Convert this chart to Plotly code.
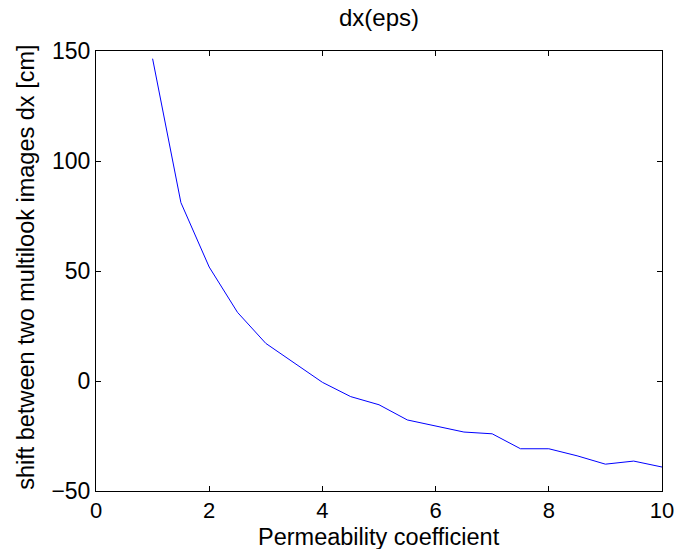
import plotly.graph_objects as go

x_vals = [1, 1.5, 2, 2.5, 3, 3.5, 4, 4.5, 5, 5.5, 6, 6.5, 7, 7.5, 8, 8.5, 9, 9.5, 10]
dx_vals = [146.5, 81.1, 51.8, 31.2, 17.1, 8.2, -0.6, -7.1, -10.8, -17.7, -20.3,
           -23.2, -24.0, -30.8, -30.8, -34.0, -37.8, -36.4, -39.1]
x_ticks = [0, 2, 4, 6, 8, 10]
y_ticks = [-50, 0, 50, 100, 150]

fig = go.Figure()
fig.add_trace(go.Scatter(x=x_vals, y=dx_vals, mode="lines",
                         line=dict(color="#0000ff", width=1), showlegend=False))

font_family = "Liberation Sans, Arial, sans-serif"
fig.update_layout(
    width=691, height=549,
    margin=dict(l=96, r=29, t=51, b=58),
    paper_bgcolor="white", plot_bgcolor="white",
    font=dict(family=font_family, size=23, color="black"),
    title=dict(text="dx(eps)", x=0.5, xref="paper", xanchor="center",
               y=1, yref="container", yanchor="top", pad=dict(t=9),
               font=dict(size=24, family=font_family), automargin=False),
    xaxis=dict(range=[0, 10], tickvals=x_ticks, ticks="inside", ticklen=5,
               tickcolor="black", showline=True, linecolor="black", linewidth=1,
               mirror="allticks", showgrid=False, zeroline=False,
               tickfont=dict(size=22), automargin=False),
    yaxis=dict(range=[-50, 150], tickvals=y_ticks, ticks="inside", ticklen=5,
               tickcolor="black", showline=True, linecolor="black", linewidth=1,
               mirror="allticks", showgrid=False, zeroline=False,
               tickfont=dict(size=23), automargin=False),
    annotations=[
        dict(text="Permeability coefficient", xref="paper", yref="paper",
             x=0.5, y=-0.104, xanchor="center", yanchor="middle", showarrow=False,
             font=dict(size=23.5)),
        dict(text="shift between two multilook images dx [cm]", xref="paper", yref="paper",
             x=-0.124, y=0.509, xanchor="center", yanchor="middle", showarrow=False,
             textangle=-90, font=dict(size=23.5)),
    ],
)
fig.write_html("out.html")
